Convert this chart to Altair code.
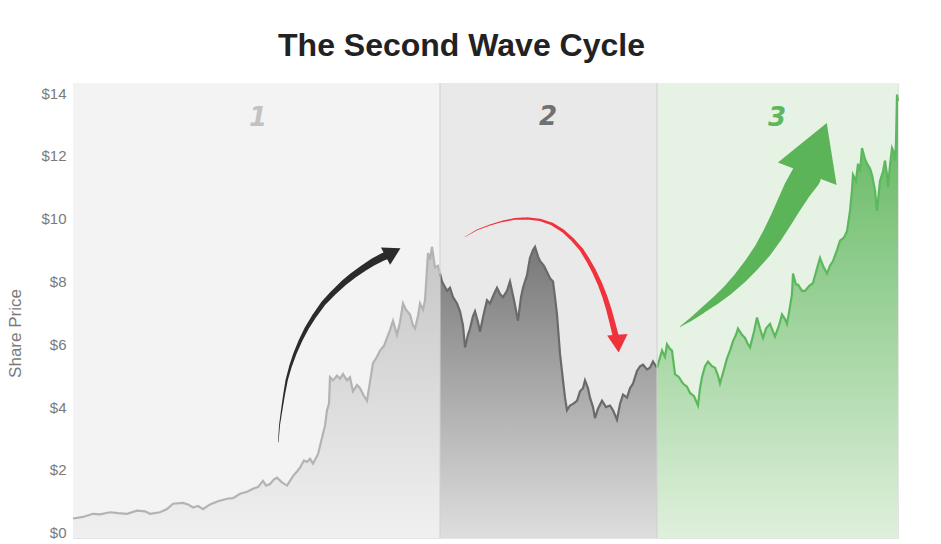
import altair as alt
import pandas as pd

# ---- price history (trading-day index, closing price in $) ----
phase1_day = [0, 10, 20, 27, 37, 45, 54, 64, 72, 77, 87, 94, 100, 110, 115, 120, 125, 130,
              137, 145, 154, 160, 167, 174, 180, 185, 190, 193, 197, 201, 204, 209, 214, 217,
              220, 224, 227, 231, 234, 237, 240, 245, 250, 252, 254, 256, 257, 260, 264, 267,
              270, 274, 277, 280, 284, 287, 291, 294, 297, 300, 304, 307, 311, 314, 317, 320,
              324, 327, 330, 333, 337, 340, 342, 345, 347, 350, 352, 355, 357, 359, 362, 365, 367]
phase1_price = [0.45, 0.5, 0.6, 0.58, 0.65, 0.62, 0.6, 0.7, 0.68, 0.6, 0.65, 0.75, 0.92, 0.95,
                0.9, 0.8, 0.85, 0.75, 0.9, 1.0, 1.08, 1.1, 1.24, 1.3, 1.4, 1.45, 1.65, 1.5, 1.55,
                1.7, 1.75, 1.6, 1.5, 1.65, 1.8, 1.95, 2.07, 2.3, 2.25, 2.35, 2.2, 2.5, 3.15, 3.4,
                3.9, 4.1, 4.95, 4.85, 5.0, 4.9, 5.05, 4.85, 4.95, 4.5, 4.7, 4.6, 4.35, 4.2, 4.8,
                5.4, 5.6, 5.8, 5.95, 6.2, 6.45, 6.75, 6.3, 6.7, 7.3, 7.1, 6.95, 6.6, 6.5, 6.9,
                7.3, 7.1, 7.4, 8.9, 8.7, 9.1, 8.45, 8.5, 8.25]

phase2_day = [367, 369, 374, 377, 380, 384, 387, 390, 392, 395, 397, 400, 402, 405, 407, 411,
              414, 417, 421, 424, 427, 430, 434, 437, 441, 445, 448, 450, 454, 457, 460, 462,
              465, 467, 471, 474, 477, 480, 482, 484, 487, 490, 492, 494, 497, 500, 504, 507,
              510, 512, 515, 517, 520, 522, 525, 529, 533, 537, 540, 544, 547, 550, 554, 557,
              560, 564, 567, 570, 574, 577, 580, 584]
phase2_price = [8.25, 8.0, 7.7, 7.8, 7.5, 7.3, 7.05, 6.6, 5.9, 6.3, 6.5, 6.9, 7.05, 6.7, 6.4,
                7.0, 7.4, 7.3, 7.6, 7.8, 7.6, 7.5, 7.7, 8.0, 7.4, 6.75, 7.5, 7.8, 8.2, 8.75, 9.0,
                9.1, 8.8, 8.65, 8.5, 8.3, 8.1, 8.0, 7.5, 6.95, 5.7, 4.85, 4.3, 3.9, 4.05, 4.1,
                4.2, 4.5, 4.6, 4.85, 4.6, 4.3, 4.0, 3.65, 3.95, 4.2, 4.0, 4.05, 3.9, 3.6, 4.1,
                4.4, 4.3, 4.6, 4.75, 5.15, 5.3, 5.35, 5.2, 5.25, 5.45, 5.25]

phase3_day = [584, 589, 592, 594, 597, 599, 602, 606, 610, 614, 617, 621, 625, 627, 629, 632,
              635, 639, 642, 645, 647, 651, 654, 657, 660, 663, 665, 669, 672, 675, 677, 681,
              684, 687, 690, 693, 697, 700, 702, 706, 709, 712, 714, 717, 719, 720, 723, 725,
              729, 732, 736, 740, 743, 747, 750, 754, 757, 760, 764, 767, 771, 774, 777, 779,
              780, 783, 785, 787, 789, 792, 794, 797, 799, 802, 804, 807, 810, 812, 814, 815,
              817, 819, 821, 822, 823, 824, 825]
phase3_price = [5.25, 5.8, 5.6, 6.0, 5.85, 5.8, 5.05, 4.95, 4.75, 4.65, 4.45, 4.35, 4.05, 4.6,
                4.95, 5.3, 5.45, 5.3, 5.25, 5.0, 4.75, 5.2, 5.55, 5.8, 6.1, 6.3, 6.5, 6.3, 6.2,
                6.0, 5.9, 6.4, 6.85, 6.5, 6.2, 6.5, 6.65, 6.4, 6.25, 6.6, 6.95, 6.8, 6.65, 7.2,
                7.6, 8.25, 7.9, 7.9, 7.7, 7.7, 7.85, 7.95, 8.3, 8.75, 8.5, 8.25, 8.5, 8.65, 9.0,
                9.3, 9.4, 9.6, 10.25, 10.9, 11.4, 11.2, 11.75, 11.5, 12.25, 11.9, 11.75, 11.6,
                11.4, 10.9, 10.25, 11.2, 11.5, 11.85, 11.4, 11.0, 11.7, 12.25, 12.1, 11.85, 12.4,
                13.95, 13.75]

# ---- phase bands ----
phase_labels = ["1", "2", "3"]
phase_start = [0, 367, 584]
phase_end = [367, 584, 825]
phase_label_day = [185, 475, 704]
phase_label_price = [13.2, 13.25, 13.2]

# ---- annotation arrows (day, price along each arrow's path) ----
up_arrow_day = [205.3, 206.5, 208.7, 211, 213.7, 217.5, 222, 227.5, 233.7, 241.5, 250.3, 260,
                270.3, 280, 290.3, 300, 310.3, 314]
up_arrow_price = [2.89, 3.42, 3.90, 4.38, 4.86, 5.30, 5.71, 6.12, 6.51, 6.91, 7.30, 7.63, 7.94,
                  8.19, 8.42, 8.62, 8.79, 8.84]
up_head_day, up_head_price = [320], [8.93]

down_arrow_day = [392, 404, 417, 430, 442, 453.7, 467, 479, 490, 500, 508, 515, 521, 527, 532,
                  536, 539.5, 542.5]
down_arrow_price = [9.42, 9.64, 9.80, 9.92, 9.99, 10.01, 9.96, 9.83, 9.61, 9.32, 9.03, 8.68,
                    8.33, 7.92, 7.50, 7.09, 6.67, 6.29]
down_head_day, down_head_price = [545], [6.02]

rally_arrow_day = [607, 617, 629, 642, 655, 667, 679, 690, 700, 709, 717, 724, 733]
rally_arrow_price = [6.56, 6.77, 7.06, 7.38, 7.73, 8.11, 8.55, 9.00, 9.51, 10.02, 10.50, 10.91,
                     11.35]
rally_head_day, rally_head_price = [744], [12.24]

Y_MIN, Y_MAX = -0.17, 14.32
X_MIN, X_MAX = 0, 825
FONT = "Liberation Sans"

x_scale = alt.Scale(domain=[X_MIN, X_MAX], nice=False, zero=False)
y_scale = alt.Scale(domain=[Y_MIN, Y_MAX], nice=False, zero=False)
y_axis = alt.Axis(
    values=[0, 2, 4, 6, 8, 10, 12, 14], format="$.0f", title="Share Price",
    ticks=False, domain=False, grid=False, labelColor="#7a7a7a", labelFontSize=15,
    labelFont=FONT, labelPadding=7, titleColor="#7a7a7a", titleFontSize=17,
    titleFont=FONT, titleFontWeight="normal", titlePadding=16, titleY=250,
)


def xq(field):
    return alt.X(field, type="quantitative", scale=x_scale, axis=None)


def yq(field):
    return alt.Y(field, type="quantitative", scale=y_scale, axis=y_axis)


bands = pd.DataFrame({"phase": phase_labels, "start": phase_start, "end": phase_end})
band_layer = alt.Chart(bands).mark_rect().encode(
    x=xq("start"), x2="end",
    y=alt.Y(datum=Y_MAX, type="quantitative", scale=y_scale, axis=y_axis),
    y2=alt.datum(Y_MIN),
    color=alt.Color("phase:N", scale=alt.Scale(domain=phase_labels,
                                               range=["#f3f3f3", "#e9e9e9", "#e6f2e4"]),
                    legend=None),
)

dividers = alt.Chart(pd.DataFrame({"day": phase_start[1:]})).mark_rule(
    color="#cfcfcf", strokeWidth=1
).encode(x=xq("day"), y=alt.Y(datum=Y_MAX, type="quantitative", scale=y_scale),
         y2=alt.datum(Y_MIN))


def phase_layers(days, prices, top, bottom, line_color):
    df = pd.DataFrame({"day": days, "price": prices})
    grad = alt.Gradient(
        gradient="linear", x1=0, x2=0, y1=1, y2=0,
        stops=[alt.GradientStop(color=bottom, offset=0),
               alt.GradientStop(color=top, offset=1)],
    )
    area = alt.Chart(df).mark_area(color=grad, line=False).encode(
        x=xq("day"), y=yq("price"), y2=alt.datum(Y_MIN)
    )
    line = alt.Chart(df).mark_line(color=line_color, strokeWidth=2.2).encode(
        x=xq("day"), y=yq("price")
    )
    return [area, line]


phase_marks = (
    phase_layers(phase1_day, phase1_price, "#c6c6c6", "#f0f0f0", "#b3b3b3")
    + phase_layers(phase2_day, phase2_price, "#787878", "#dedede", "#6a6a6a")
    + phase_layers(phase3_day, phase3_price, "#5db55b", "#dff0dc", "#5cb85c")
)


def arrow(days, prices, head_day, head_price, color, w0, w1, head_size, head_angle):
    n = len(days)
    df = pd.DataFrame({"day": days, "price": prices, "t": [i / (n - 1) for i in range(n)]})
    body = alt.Chart(df).mark_trail(color=color).encode(
        x=xq("day"), y=yq("price"), order="t:Q",
        size=alt.Size("t:Q", scale=alt.Scale(domain=[0, 1], range=[w0, w1]), legend=None),
    )
    head = alt.Chart(pd.DataFrame({"day": head_day, "price": head_price})).mark_point(
        shape="triangle-up", filled=True, opacity=1, color=color,
        size=head_size, angle=head_angle,
    ).encode(x=xq("day"), y=yq("price"))
    return [body, head]


arrow_marks = (
    arrow(up_arrow_day, up_arrow_price, up_head_day, up_head_price,
          "#2b2b2b", 0.5, 8, 380, 62)
    + arrow(down_arrow_day, down_arrow_price, down_head_day, down_head_price,
            "#f0323c", 0.5, 6, 420, 176)
    + arrow(rally_arrow_day, rally_arrow_price, rally_head_day, rally_head_price,
            "#5cb458", 0.5, 30, 3950, 21)
)

labels = pd.DataFrame({"label": phase_labels, "day": phase_label_day,
                       "price": phase_label_price})
label_layer = alt.Chart(labels).mark_text(
    font="DejaVu Sans", fontSize=26, fontStyle="italic", fontWeight="bold"
).encode(
    x=xq("day"), y=yq("price"), text="label:N",
    color=alt.Color("label:N", scale=alt.Scale(domain=phase_labels,
                                               range=["#c2c2c2", "#707070", "#5cb85c"]),
                    legend=None),
)

chart = alt.layer(
    band_layer, *phase_marks, dividers, *arrow_marks, label_layer
).resolve_scale(
    size="independent", color="independent"
).properties(
    width=825, height=455,
    autosize=alt.AutoSizeParams(type="none"),
    padding={"left": 73, "top": 83, "right": 43, "bottom": 6},
    background="white",
    title=alt.TitleParams(
        "The Second Wave Cycle", font=FONT, fontSize=32, fontWeight="bold",
        color="#222222", anchor="middle", dx=-24, dy=29, offset=24, baseline="alphabetic",
    ),
).configure_view(stroke="#e4e4e4", strokeWidth=1)

chart.save("out.html", embed_options={"renderer": "svg", "actions": False})
